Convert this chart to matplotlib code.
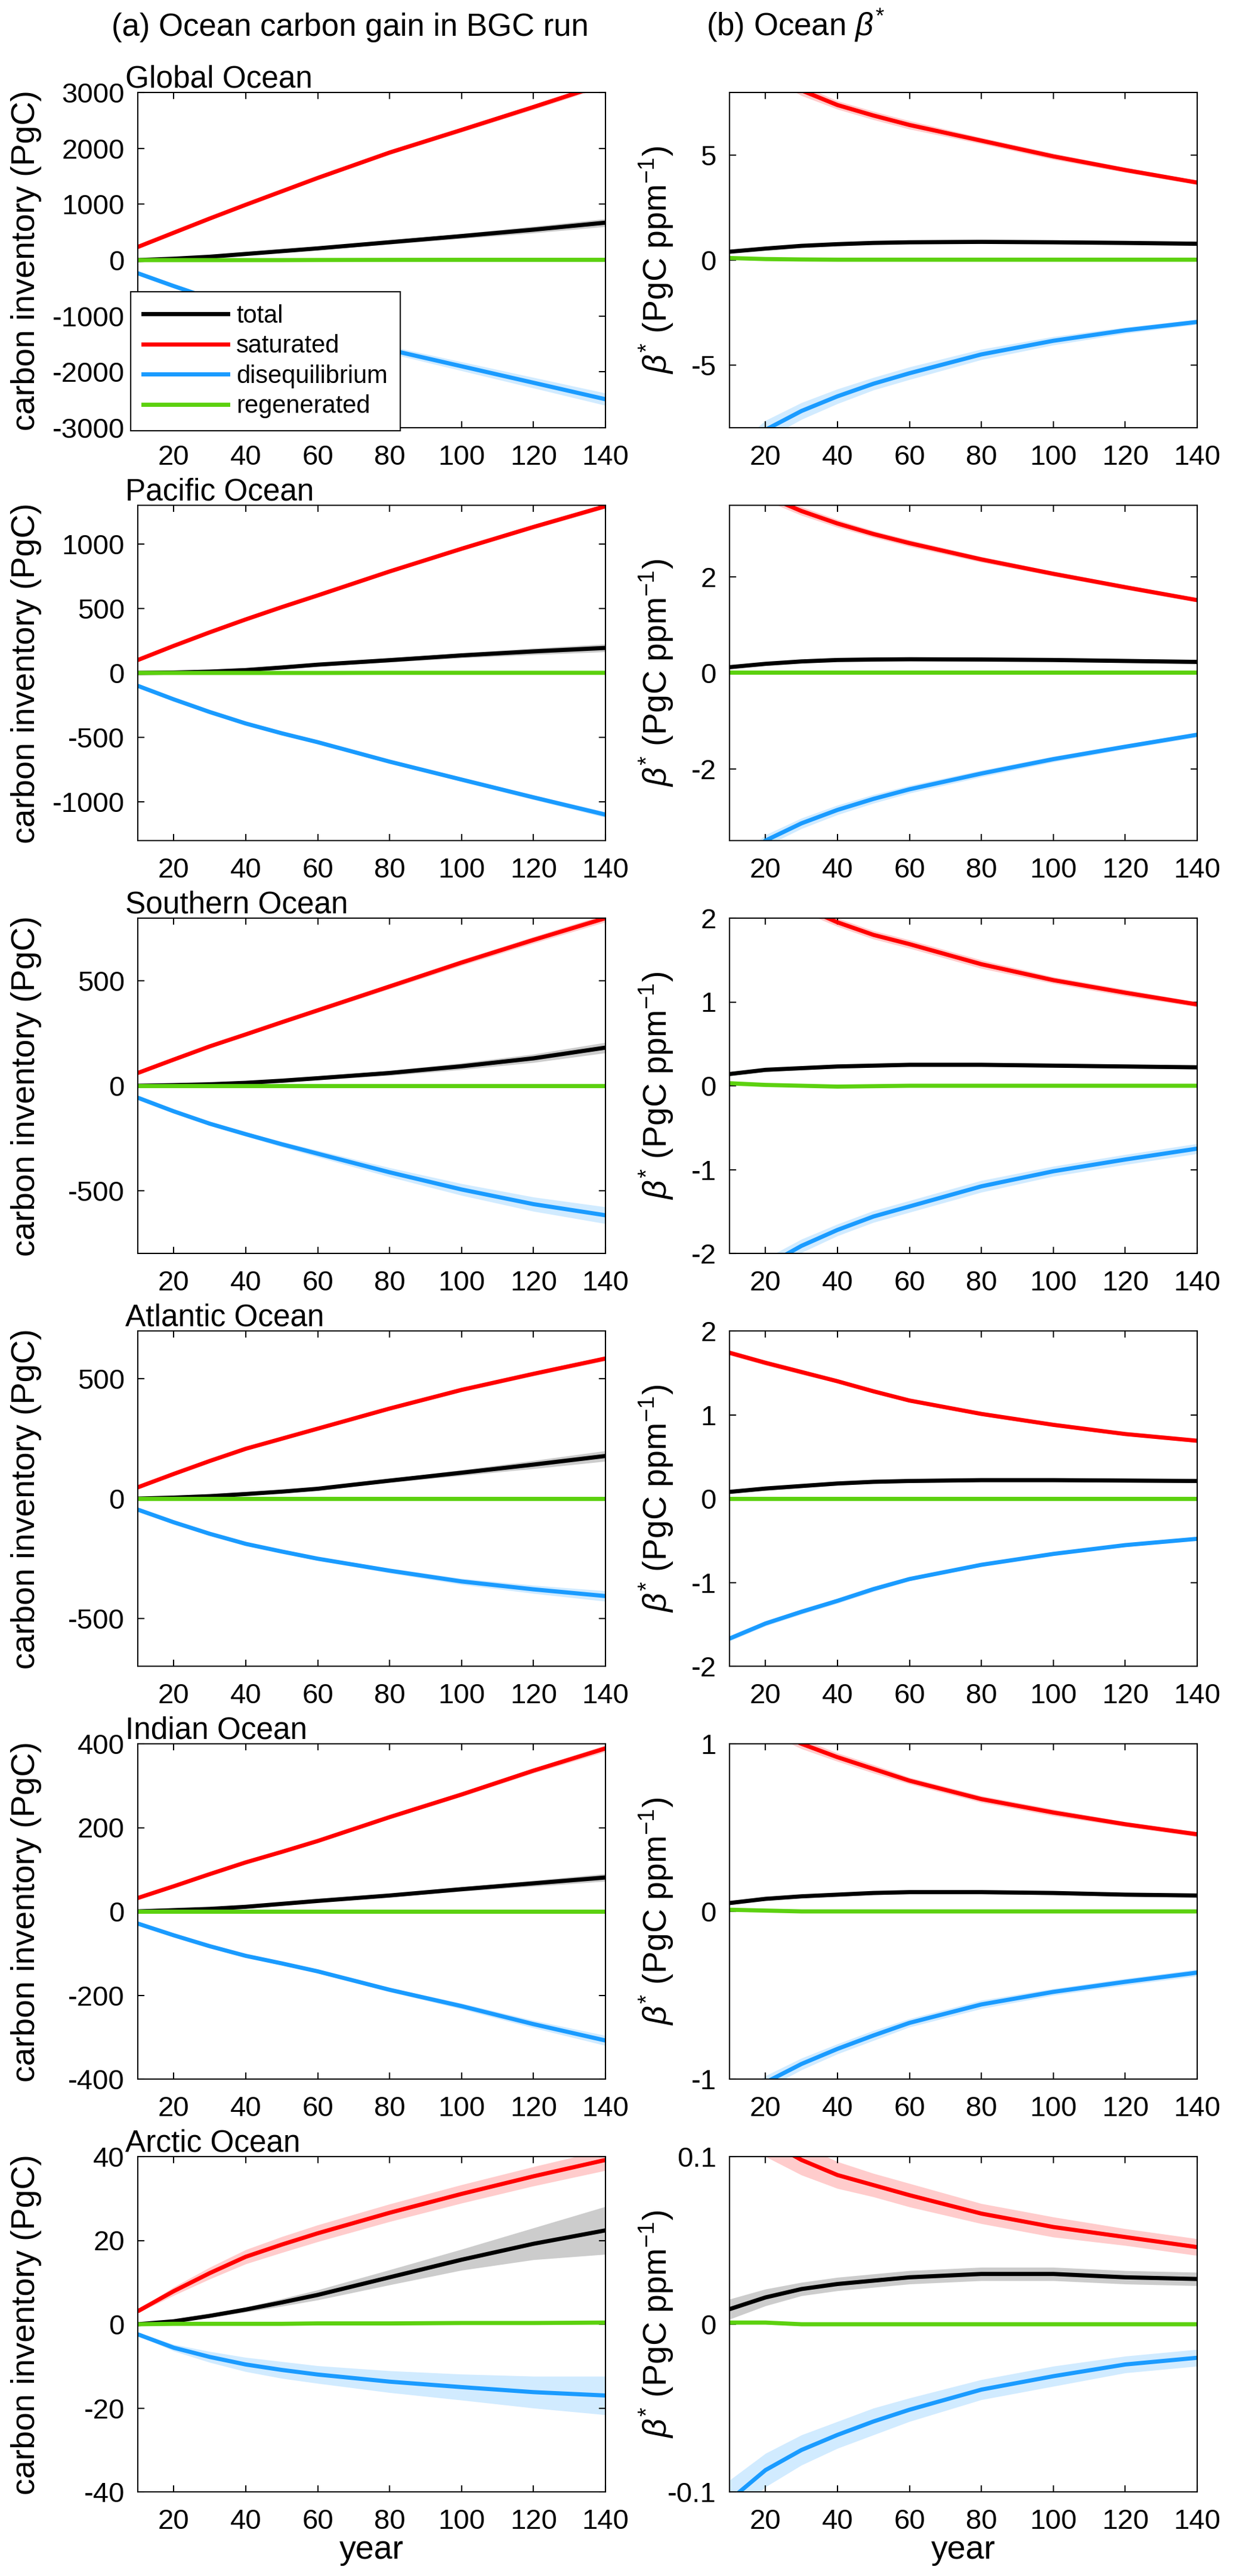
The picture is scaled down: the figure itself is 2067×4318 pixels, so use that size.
import matplotlib
matplotlib.use('Agg')
import matplotlib.pyplot as plt
from matplotlib.lines import Line2D

plt.rcParams['font.family'] = ['Liberation Sans', 'DejaVu Sans']
plt.rcParams['mathtext.fontset'] = 'custom'
plt.rcParams['mathtext.rm'] = 'Liberation Sans'
plt.rcParams['mathtext.it'] = 'Liberation Sans:italic'
plt.rcParams['axes.unicode_minus'] = False

years = [10, 20, 30, 40, 50, 60, 80, 100, 120, 140]
series_names = ['total', 'saturated', 'disequilibrium', 'regenerated']
series_colors = ['#000000', '#ff0000', '#1a9bff', '#5cd10f']
ocean_names = ['Global Ocean', 'Pacific Ocean', 'Southern Ocean',
               'Atlantic Ocean', 'Indian Ocean', 'Arctic Ocean']

# ---- carbon inventory (PgC) ----
glo_c_tot = [0, 25, 60, 110, 160, 210, 320, 430, 545, 670]
glo_c_sat = [235, 490, 744, 990, 1230, 1470, 1925, 2330, 2740, 3160]
glo_c_dis = [-235, -465, -684, -880, -1070, -1260, -1605, -1900, -2195, -2490]
glo_c_reg = [0, 0, 0, 0, 0, 2, 4, 5, 5, 5]
glo_c_tot_sd = [2, 5, 10, 15, 20, 25, 35, 45, 60, 70]
glo_c_sat_sd = [5, 10, 15, 20, 25, 30, 35, 40, 45, 50]
glo_c_dis_sd = [5, 10, 20, 30, 40, 50, 65, 80, 95, 110]
glo_c_reg_sd = [2, 2, 2, 3, 3, 3, 4, 4, 5, 5]

pac_c_tot = [0, 3, 10, 22, 42, 64, 99, 136, 167, 194]
pac_c_sat = [100, 210, 315, 415, 510, 601, 787, 963, 1132, 1293]
pac_c_dis = [-100, -205, -303, -392, -468, -537, -688, -827, -965, -1099]
pac_c_reg = [0, 0, 0, 0, 0, 0, 1, 1, 1, 1]
pac_c_tot_sd = [1, 2, 3, 5, 7, 10, 15, 20, 25, 30]
pac_c_sat_sd = [2, 3, 5, 6, 8, 10, 12, 14, 16, 18]
pac_c_dis_sd = [2, 3, 5, 6, 8, 10, 12, 15, 18, 22]
pac_c_reg_sd = [1, 1, 1, 1, 1, 1, 2, 2, 2, 2]

sou_c_tot = [0, 3, 7, 14, 24, 36, 61, 93, 131, 182]
sou_c_sat = [61, 125, 188, 245, 303, 360, 474, 588, 696, 800]
sou_c_dis = [-57, -122, -181, -231, -279, -324, -413, -495, -565, -618]
sou_c_reg = [0, 0, 0, 0, 0, 0, 0, 0, 0, 0]
sou_c_tot_sd = [1, 2, 3, 4, 6, 8, 12, 16, 20, 25]
sou_c_sat_sd = [2, 4, 6, 8, 9, 10, 12, 14, 16, 18]
sou_c_dis_sd = [3, 5, 8, 10, 13, 16, 22, 28, 34, 40]
sou_c_reg_sd = [1, 1, 1, 1, 1, 1, 1, 1, 1, 1]

atl_c_tot = [0, 4, 10, 19, 29, 41, 75, 108, 142, 178]
atl_c_sat = [47, 103, 157, 208, 250, 292, 376, 454, 521, 585]
atl_c_dis = [-46, -99, -147, -189, -221, -251, -301, -346, -379, -407]
atl_c_reg = [0, 0, 0, 0, 0, 0, 0, 0, 0, 0]
atl_c_tot_sd = [1, 1, 2, 3, 4, 5, 8, 12, 17, 22]
atl_c_sat_sd = [1, 2, 3, 4, 5, 6, 7, 8, 9, 10]
atl_c_dis_sd = [1, 2, 3, 4, 5, 7, 10, 13, 17, 22]
atl_c_reg_sd = [1, 1, 1, 1, 1, 1, 1, 1, 1, 1]

ind_c_tot = [0, 3, 6, 11, 18, 25, 38, 53, 67, 81]
ind_c_sat = [32, 60, 89, 117, 142, 168, 225, 279, 336, 389]
ind_c_dis = [-29, -57, -83, -106, -124, -143, -187, -226, -269, -308]
ind_c_reg = [0, 0, 0, 0, 0, 0, 0, 0, 0, 0]
ind_c_tot_sd = [0.5, 1, 1, 1, 2, 2, 3, 5, 7, 9]
ind_c_sat_sd = [1, 1, 2, 2, 3, 3, 4, 5, 6, 8]
ind_c_dis_sd = [1, 1, 2, 2, 3, 4, 5, 7, 9, 12]
ind_c_reg_sd = [0.5, 0.5, 0.5, 0.5, 0.5, 0.5, 0.5, 0.5, 0.5, 0.5]

arc_c_tot = [0, 0.7, 2.0, 3.5, 5.2, 7.0, 11.2, 15.4, 19.2, 22.4]
arc_c_sat = [3.1, 7.9, 12.2, 16.1, 19.0, 21.7, 26.6, 31.1, 35.3, 39.2]
arc_c_dis = [-2.4, -5.6, -7.8, -9.6, -10.9, -12.0, -13.7, -15.0, -16.2, -17.0]
arc_c_reg = [0, 0.1, 0.1, 0.1, 0.1, 0.2, 0.2, 0.3, 0.3, 0.4]
arc_c_tot_sd = [0.2, 0.3, 0.4, 0.6, 0.9, 1.2, 1.8, 2.5, 3.8, 5.7]
arc_c_sat_sd = [0.4, 1.0, 1.4, 1.7, 1.9, 2.0, 2.1, 2.2, 2.3, 2.5]
arc_c_dis_sd = [0.3, 0.8, 1.3, 1.7, 2.0, 2.1, 2.6, 3.1, 3.8, 4.6]
arc_c_reg_sd = [0.3, 0.3, 0.3, 0.3, 0.3, 0.3, 0.3, 0.3, 0.3, 0.3]

# ---- beta* (PgC ppm-1) ----
glo_b_tot = [0.40, 0.55, 0.68, 0.76, 0.82, 0.85, 0.87, 0.85, 0.82, 0.78]
glo_b_sat = [10.5, 9.1, 8.1, 7.4, 6.9, 6.45, 5.7, 4.95, 4.3, 3.7]
glo_b_dis = [-9.6, -8.1, -7.2, -6.5, -5.9, -5.4, -4.5, -3.85, -3.35, -2.95]
glo_b_reg = [0.1, 0.05, 0.03, 0.02, 0.02, 0.02, 0.02, 0.02, 0.02, 0.02]
glo_b_tot_sd = [0.05, 0.05, 0.05, 0.05, 0.05, 0.05, 0.05, 0.05, 0.06, 0.06]
glo_b_sat_sd = [0.3, 0.3, 0.25, 0.2, 0.2, 0.2, 0.15, 0.15, 0.12, 0.1]
glo_b_dis_sd = [0.5, 0.45, 0.4, 0.35, 0.3, 0.3, 0.25, 0.2, 0.15, 0.12]
glo_b_reg_sd = [0.05, 0.03, 0.03, 0.03, 0.03, 0.03, 0.03, 0.03, 0.03, 0.03]

pac_b_tot = [0.12, 0.19, 0.24, 0.27, 0.28, 0.285, 0.28, 0.27, 0.25, 0.23]
pac_b_sat = [4.2, 3.7, 3.38, 3.12, 2.9, 2.71, 2.37, 2.07, 1.79, 1.52]
pac_b_dis = [-4.1, -3.5, -3.14, -2.86, -2.63, -2.43, -2.1, -1.8, -1.54, -1.29]
pac_b_reg = [0.01, 0.01, 0.01, 0.01, 0.01, 0.01, 0.01, 0.01, 0.01, 0.01]
pac_b_tot_sd = [0.02, 0.02, 0.02, 0.02, 0.02, 0.02, 0.02, 0.02, 0.02, 0.02]
pac_b_sat_sd = [0.1, 0.1, 0.09, 0.08, 0.07, 0.07, 0.06, 0.05, 0.05, 0.04]
pac_b_dis_sd = [0.12, 0.12, 0.11, 0.1, 0.09, 0.08, 0.07, 0.06, 0.05, 0.05]
pac_b_reg_sd = [0.02, 0.02, 0.02, 0.02, 0.02, 0.02, 0.02, 0.02, 0.02, 0.02]

sou_b_tot = [0.14, 0.19, 0.21, 0.23, 0.24, 0.25, 0.25, 0.24, 0.23, 0.22]
sou_b_sat = [2.75, 2.38, 2.14, 1.95, 1.8, 1.69, 1.45, 1.26, 1.11, 0.97]
sou_b_dis = [-2.55, -2.15, -1.91, -1.72, -1.56, -1.44, -1.2, -1.02, -0.88, -0.75]
sou_b_reg = [0.03, 0.01, 0.0, -0.01, -0.005, 0, 0, 0, 0, 0]
sou_b_tot_sd = [0.02, 0.02, 0.02, 0.02, 0.02, 0.02, 0.02, 0.02, 0.02, 0.02]
sou_b_sat_sd = [0.08, 0.07, 0.06, 0.05, 0.05, 0.05, 0.05, 0.04, 0.04, 0.03]
sou_b_dis_sd = [0.1, 0.09, 0.08, 0.07, 0.07, 0.07, 0.07, 0.06, 0.06, 0.06]
sou_b_reg_sd = [0.03, 0.02, 0.01, 0.01, 0.01, 0.01, 0.01, 0.01, 0.01, 0.01]

atl_b_tot = [0.08, 0.12, 0.15, 0.18, 0.20, 0.21, 0.22, 0.22, 0.215, 0.21]
atl_b_sat = [1.74, 1.62, 1.51, 1.40, 1.28, 1.17, 1.01, 0.88, 0.77, 0.69]
atl_b_dis = [-1.67, -1.49, -1.35, -1.22, -1.08, -0.96, -0.79, -0.66, -0.555, -0.48]
atl_b_reg = [0, 0, 0, 0, 0, 0, 0, 0, 0, 0]
atl_b_tot_sd = [0.02, 0.02, 0.02, 0.02, 0.02, 0.02, 0.02, 0.02, 0.02, 0.02]
atl_b_sat_sd = [0.03, 0.03, 0.03, 0.02, 0.02, 0.02, 0.02, 0.02, 0.02, 0.02]
atl_b_dis_sd = [0.03, 0.03, 0.03, 0.03, 0.03, 0.02, 0.02, 0.02, 0.02, 0.02]
atl_b_reg_sd = [0.01, 0.01, 0.01, 0.01, 0.01, 0.01, 0.01, 0.01, 0.01, 0.01]

ind_b_tot = [0.05, 0.075, 0.09, 0.10, 0.11, 0.115, 0.115, 0.11, 0.10, 0.095]
ind_b_sat = [1.25, 1.1, 1.0, 0.92, 0.85, 0.78, 0.67, 0.59, 0.52, 0.46]
ind_b_dis = [-1.17, -1.02, -0.91, -0.82, -0.74, -0.665, -0.555, -0.48, -0.42, -0.365]
ind_b_reg = [0.01, 0.005, 0, 0, 0, 0, 0, 0, 0, 0]
ind_b_tot_sd = [0.01, 0.01, 0.01, 0.01, 0.01, 0.01, 0.01, 0.01, 0.01, 0.01]
ind_b_sat_sd = [0.03, 0.03, 0.03, 0.025, 0.025, 0.02, 0.02, 0.02, 0.015, 0.015]
ind_b_dis_sd = [0.04, 0.04, 0.035, 0.03, 0.03, 0.025, 0.025, 0.02, 0.02, 0.02]
ind_b_reg_sd = [0.01, 0.01, 0.005, 0.005, 0.005, 0.005, 0.005, 0.005, 0.005, 0.005]

arc_b_tot = [0.009, 0.016, 0.021, 0.024, 0.026, 0.028, 0.030, 0.030, 0.028, 0.027]
arc_b_sat = [0.125, 0.11, 0.098, 0.089, 0.083, 0.077, 0.066, 0.058, 0.052, 0.046]
arc_b_dis = [-0.105, -0.087, -0.075, -0.066, -0.058, -0.051, -0.039, -0.031, -0.024, -0.020]
arc_b_reg = [0.001, 0.001, 0, 0, 0, 0, 0, 0, 0, 0]
arc_b_tot_sd = [0.006, 0.005, 0.004, 0.004, 0.004, 0.004, 0.004, 0.004, 0.004, 0.004]
arc_b_sat_sd = [0.012, 0.01, 0.009, 0.008, 0.007, 0.007, 0.006, 0.006, 0.005, 0.005]
arc_b_dis_sd = [0.012, 0.01, 0.009, 0.008, 0.008, 0.007, 0.006, 0.006, 0.005, 0.005]
arc_b_reg_sd = [0.001, 0.001, 0.001, 0.001, 0.001, 0.001, 0.001, 0.001, 0.001, 0.001]

# axis limits and ticks
c_ylims = [3000, 1300, 800, 700, 400, 40]
c_yticks = [[-3000, -2000, -1000, 0, 1000, 2000, 3000],
            [-1000, -500, 0, 500, 1000],
            [-500, 0, 500],
            [-500, 0, 500],
            [-400, -200, 0, 200, 400],
            [-40, -20, 0, 20, 40]]
c_yticklabels = [['-3000', '-2000', '-1000', '0', '1000', '2000', '3000'],
                 ['-1000', '-500', '0', '500', '1000'],
                 ['-500', '0', '500'],
                 ['-500', '0', '500'],
                 ['-400', '-200', '0', '200', '400'],
                 ['-40', '-20', '0', '20', '40']]
b_ylims = [8, 3.5, 2, 2, 1, 0.1]
b_yticks = [[-5, 0, 5], [-2, 0, 2], [-2, -1, 0, 1, 2], [-2, -1, 0, 1, 2],
            [-1, 0, 1], [-0.1, 0, 0.1]]
b_yticklabels = [['-5', '0', '5'], ['-2', '0', '2'],
                 ['-2', '-1', '0', '1', '2'], ['-2', '-1', '0', '1', '2'],
                 ['-1', '0', '1'], ['-0.1', '0', '0.1']]
xticks = [20, 40, 60, 80, 100, 120, 140]

c_data = [
    [(glo_c_tot, glo_c_tot_sd), (glo_c_sat, glo_c_sat_sd), (glo_c_dis, glo_c_dis_sd), (glo_c_reg, glo_c_reg_sd)],
    [(pac_c_tot, pac_c_tot_sd), (pac_c_sat, pac_c_sat_sd), (pac_c_dis, pac_c_dis_sd), (pac_c_reg, pac_c_reg_sd)],
    [(sou_c_tot, sou_c_tot_sd), (sou_c_sat, sou_c_sat_sd), (sou_c_dis, sou_c_dis_sd), (sou_c_reg, sou_c_reg_sd)],
    [(atl_c_tot, atl_c_tot_sd), (atl_c_sat, atl_c_sat_sd), (atl_c_dis, atl_c_dis_sd), (atl_c_reg, atl_c_reg_sd)],
    [(ind_c_tot, ind_c_tot_sd), (ind_c_sat, ind_c_sat_sd), (ind_c_dis, ind_c_dis_sd), (ind_c_reg, ind_c_reg_sd)],
    [(arc_c_tot, arc_c_tot_sd), (arc_c_sat, arc_c_sat_sd), (arc_c_dis, arc_c_dis_sd), (arc_c_reg, arc_c_reg_sd)],
]
b_data = [
    [(glo_b_tot, glo_b_tot_sd), (glo_b_sat, glo_b_sat_sd), (glo_b_dis, glo_b_dis_sd), (glo_b_reg, glo_b_reg_sd)],
    [(pac_b_tot, pac_b_tot_sd), (pac_b_sat, pac_b_sat_sd), (pac_b_dis, pac_b_dis_sd), (pac_b_reg, pac_b_reg_sd)],
    [(sou_b_tot, sou_b_tot_sd), (sou_b_sat, sou_b_sat_sd), (sou_b_dis, sou_b_dis_sd), (sou_b_reg, sou_b_reg_sd)],
    [(atl_b_tot, atl_b_tot_sd), (atl_b_sat, atl_b_sat_sd), (atl_b_dis, atl_b_dis_sd), (atl_b_reg, atl_b_reg_sd)],
    [(ind_b_tot, ind_b_tot_sd), (ind_b_sat, ind_b_sat_sd), (ind_b_dis, ind_b_dis_sd), (ind_b_reg, ind_b_reg_sd)],
    [(arc_b_tot, arc_b_tot_sd), (arc_b_sat, arc_b_sat_sd), (arc_b_dis, arc_b_dis_sd), (arc_b_reg, arc_b_reg_sd)],
]

W, H = 2067, 4318
fig = plt.figure(figsize=(W / 100, H / 100), dpi=100)


def draw_panel(ax, data, ylim, yticks, yticklabels):
    for (vals, sd), col in zip(data, series_colors):
        lo = [v - s for v, s in zip(vals, sd)]
        hi = [v + s for v, s in zip(vals, sd)]
        ax.fill_between(years, lo, hi, color=col, alpha=0.2, linewidth=0)
        ax.plot(years, vals, color=col, lw=5, solid_capstyle='butt',
                solid_joinstyle='round')
    ax.set_xlim(10, 140)
    ax.set_ylim(-ylim, ylim)
    ax.set_xticks(xticks)
    ax.set_xticklabels([str(t) for t in xticks])
    ax.set_yticks(yticks)
    ax.set_yticklabels(yticklabels)
    ax.tick_params(direction='in', top=True, right=True, length=8, width=1.5,
                   labelsize=34)
    ax.tick_params(axis='x', pad=20)
    ax.tick_params(axis='y', pad=16)
    for sp in ax.spines.values():
        sp.set_linewidth(1.5)


ax_w = 784 / W
ax_h = 562 / H
for i in range(6):
    top = 155 + 692 * i
    y0 = 1 - (top + 562) / H
    axl = fig.add_axes([231 / W, y0, ax_w, ax_h])
    axr = fig.add_axes([1223 / W, y0, ax_w, ax_h])

    draw_panel(axl, c_data[i], c_ylims[i], c_yticks[i], c_yticklabels[i])
    draw_panel(axr, b_data[i], b_ylims[i], b_yticks[i], b_yticklabels[i])

    axl.set_ylabel('carbon inventory (PgC)', fontsize=40)
    axl.yaxis.set_label_coords(-0.205, 0.5)
    axr.set_ylabel(r'$\beta^{*}$ (PgC ppm$^{-1}$)', fontsize=40)
    axr.yaxis.set_label_coords(-0.116, 0.5)

    # row title sits just above the top spine
    axl.text(-0.027, 1.016, ocean_names[i], transform=axl.transAxes,
             fontsize=37, ha='left', va='baseline')

    if i == 5:
        axl.set_xlabel('year', fontsize=40, labelpad=0)
        axr.set_xlabel('year', fontsize=40, labelpad=0)

    if i == 0:
        handles = [Line2D([0], [0], color=c, lw=5) for c in series_colors]
        leg = axl.legend(handles, series_names, loc='lower left',
                         bbox_to_anchor=(-0.0153, -0.009), borderaxespad=0,
                         fontsize=30, handlelength=3.4, handletextpad=0.35,
                         labelspacing=0.25, borderpad=0.5, fancybox=False,
                         framealpha=1, edgecolor='black')
        leg.get_frame().set_linewidth(1.5)

fig.text(187 / W, 1 - 60 / H, '(a) Ocean carbon gain in BGC run',
         fontsize=38, ha='left', va='baseline')
fig.text(1184 / W, 1 - 60 / H, r'(b) Ocean $\beta^{*}$',
         fontsize=38, ha='left', va='baseline')

fig.savefig('out.png', dpi=100)
